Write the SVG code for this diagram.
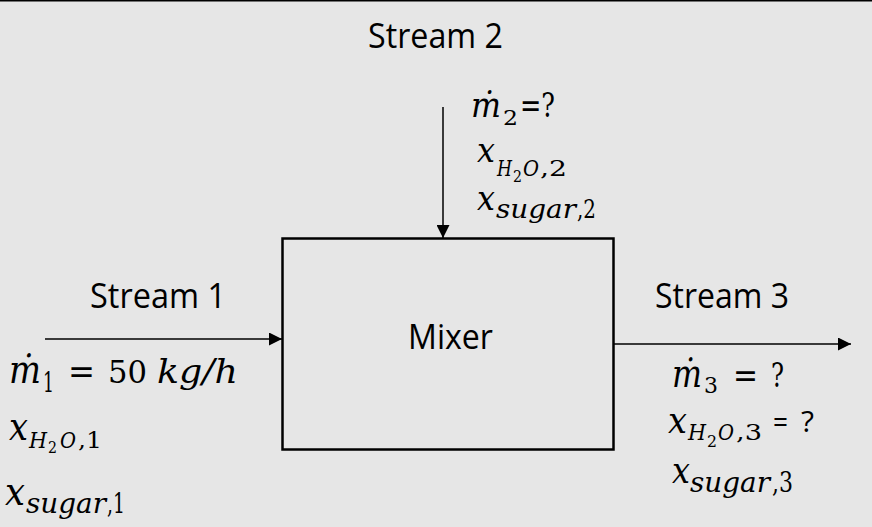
<svg xmlns="http://www.w3.org/2000/svg" width="872" height="527" viewBox="0 0 872 527">
<defs>
<style>
.lbl{font-family:"Open Sans","Liberation Sans",sans-serif;font-size:35px;fill:#000}
.m{font-family:"DejaVu Serif","Liberation Serif",serif;fill:#000}
.i{font-style:italic}
.ln{stroke:#000;stroke-width:1.5;fill:none}
</style>
<marker id="ah" viewBox="0 0 13 13" refX="13" refY="6.5" markerWidth="13" markerHeight="13" markerUnits="userSpaceOnUse" orient="auto">
<path d="M0,0 L13,6.5 L0,13 Z" fill="#000"/>
</marker>
</defs>
<rect x="0" y="0" width="872" height="527" fill="#e6e6e6"/>
<line x1="0" y1="0.75" x2="872" y2="0.75" stroke="#000" stroke-width="1.5"/>

<g id="mixer">
<rect x="282.5" y="238.5" width="331" height="211" fill="none" stroke="#000" stroke-width="2.5"/>
<text class="lbl" x="408" y="349" textLength="85" lengthAdjust="spacingAndGlyphs">Mixer</text>
</g>

<g id="connectors">
<line class="ln" x1="45" y1="339" x2="282" y2="339" marker-end="url(#ah)"/>
<line class="ln" x1="443" y1="107" x2="443" y2="238" marker-end="url(#ah)"/>
<line class="ln" x1="614" y1="344" x2="851" y2="344" marker-end="url(#ah)"/>
</g>

<g id="stream2">
<text class="lbl" x="368" y="48" textLength="135" lengthAdjust="spacingAndGlyphs">Stream 2</text>
<text class="m"><tspan class="i" x="471" y="117" font-size="36" textLength="30" lengthAdjust="spacingAndGlyphs">ṁ</tspan><tspan x="503" y="125" font-size="21" textLength="15" lengthAdjust="spacingAndGlyphs">2</tspan><tspan x="520" y="117" font-size="33" textLength="35" lengthAdjust="spacingAndGlyphs">=?</tspan></text>
<text class="m"><tspan class="i" x="477" y="162" font-size="34" textLength="18" lengthAdjust="spacingAndGlyphs">x</tspan><tspan class="i" x="497" y="176" font-size="23" textLength="15" lengthAdjust="spacingAndGlyphs">H</tspan><tspan x="513" y="182" font-size="17" textLength="9" lengthAdjust="spacingAndGlyphs">2</tspan><tspan class="i" x="523" y="176" font-size="23" textLength="16" lengthAdjust="spacingAndGlyphs">O</tspan><tspan x="540" y="176" font-size="23" textLength="27" lengthAdjust="spacingAndGlyphs">,2</tspan></text>
<text class="m"><tspan class="i" x="477" y="210" font-size="34" textLength="18" lengthAdjust="spacingAndGlyphs">x</tspan><tspan class="i" x="496" y="218" font-size="26" textLength="80" lengthAdjust="spacingAndGlyphs">sugar</tspan><tspan x="577" y="218" font-size="26" textLength="19" lengthAdjust="spacingAndGlyphs">,2</tspan></text>
</g>

<g id="stream1">
<text class="lbl" x="90" y="308" textLength="136" lengthAdjust="spacingAndGlyphs">Stream 1</text>
<text class="m"><tspan class="i" x="9" y="383" font-size="40" textLength="32" lengthAdjust="spacingAndGlyphs">ṁ</tspan><tspan x="43" y="392" font-size="27" textLength="11" lengthAdjust="spacingAndGlyphs">1</tspan><tspan x="68" y="383" font-size="34" textLength="27" lengthAdjust="spacingAndGlyphs">=</tspan><tspan x="108" y="383" font-size="31" textLength="39" lengthAdjust="spacingAndGlyphs">50</tspan><tspan class="i" x="157" y="383" font-size="33" textLength="81" lengthAdjust="spacingAndGlyphs">kg/h</tspan></text>
<text class="m"><tspan class="i" x="9" y="440" font-size="39" textLength="19" lengthAdjust="spacingAndGlyphs">x</tspan><tspan class="i" x="29" y="448" font-size="22" textLength="18" lengthAdjust="spacingAndGlyphs">H</tspan><tspan x="48" y="453" font-size="16" textLength="9" lengthAdjust="spacingAndGlyphs">2</tspan><tspan class="i" x="60" y="448" font-size="22" textLength="16" lengthAdjust="spacingAndGlyphs">O</tspan><tspan x="78" y="448" font-size="22" textLength="24" lengthAdjust="spacingAndGlyphs">,1</tspan></text>
<text class="m"><tspan class="i" x="5" y="505" font-size="39" textLength="20" lengthAdjust="spacingAndGlyphs">x</tspan><tspan class="i" x="26" y="513" font-size="27" textLength="80" lengthAdjust="spacingAndGlyphs">sugar</tspan><tspan x="107" y="513" font-size="27" textLength="18" lengthAdjust="spacingAndGlyphs">,1</tspan></text>
</g>

<g id="stream3">
<text class="lbl" x="655" y="308" textLength="134" lengthAdjust="spacingAndGlyphs">Stream 3</text>
<text class="m"><tspan class="i" x="672" y="387" font-size="39" textLength="30" lengthAdjust="spacingAndGlyphs">ṁ</tspan><tspan x="704" y="393" font-size="23" textLength="14" lengthAdjust="spacingAndGlyphs">3</tspan><tspan x="733" y="387" font-size="34" textLength="25" lengthAdjust="spacingAndGlyphs">=</tspan><tspan x="771" y="387" font-size="33" textLength="13" lengthAdjust="spacingAndGlyphs">?</tspan></text>
<text class="m"><tspan class="i" x="668" y="433" font-size="35" textLength="19" lengthAdjust="spacingAndGlyphs">x</tspan><tspan class="i" x="688" y="440" font-size="22" textLength="18" lengthAdjust="spacingAndGlyphs">H</tspan><tspan x="707" y="447" font-size="16" textLength="10" lengthAdjust="spacingAndGlyphs">2</tspan><tspan class="i" x="718" y="440" font-size="23" textLength="16" lengthAdjust="spacingAndGlyphs">O</tspan><tspan x="736" y="440" font-size="23" textLength="26" lengthAdjust="spacingAndGlyphs">,3</tspan><tspan x="773" y="432" font-family="Open Sans, Liberation Sans, sans-serif" font-size="30" textLength="15" lengthAdjust="spacingAndGlyphs">=</tspan><tspan x="801" y="432" font-family="Open Sans, Liberation Sans, sans-serif" font-size="30" textLength="13" lengthAdjust="spacingAndGlyphs">?</tspan></text>
<text class="m"><tspan class="i" x="672" y="483" font-size="35" textLength="18" lengthAdjust="spacingAndGlyphs">x</tspan><tspan class="i" x="690" y="492" font-size="27" textLength="80" lengthAdjust="spacingAndGlyphs">sugar</tspan><tspan x="772" y="492" font-size="27" textLength="21" lengthAdjust="spacingAndGlyphs">,3</tspan></text>
</g>
</svg>
